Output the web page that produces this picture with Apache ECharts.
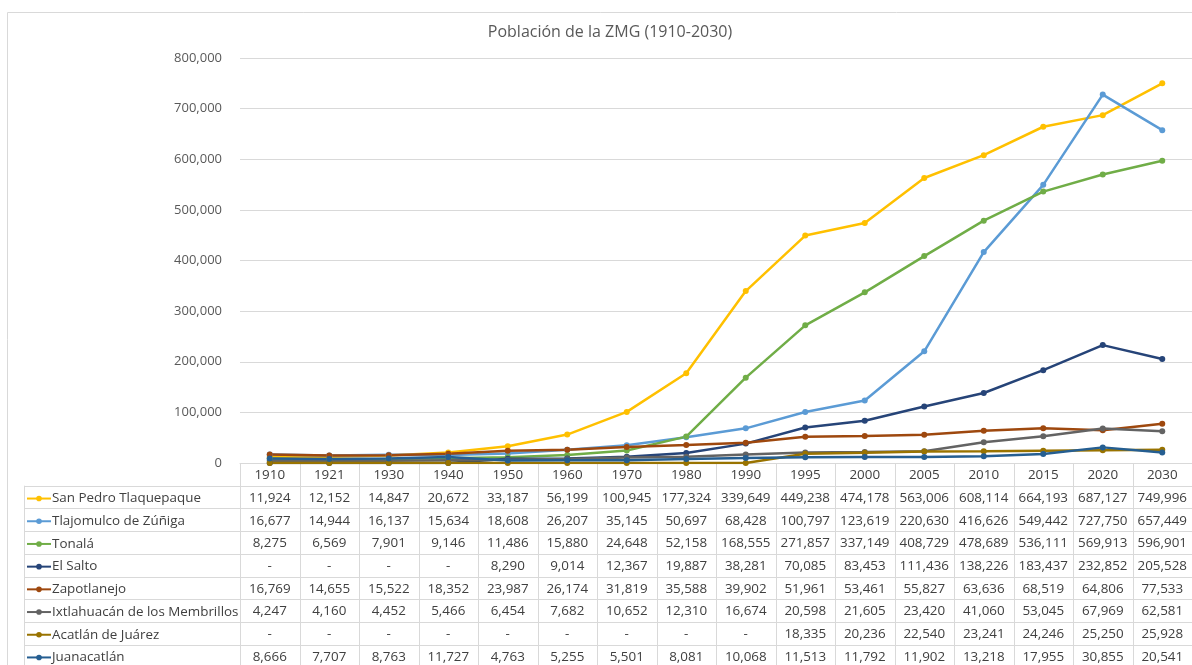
<!DOCTYPE html>
<html>
<head>
<meta charset="utf-8">
<script src="https://cdn.jsdelivr.net/npm/echarts@6/dist/echarts.min.js"></script>
<style>
html,body{margin:0;padding:0;background:#fff;}
#c{width:1192px;height:665px;}
</style>
</head>
<body>
<div id="c"></div>
<script>
var years = ['1910','1921','1930','1940','1950','1960','1970','1980','1990','1995','2000','2005','2010','2015','2020','2030'];
var seriesNames = ['San Pedro Tlaquepaque','Tlajomulco de Zúñiga','Tonalá','El Salto','Zapotlanejo','Ixtlahuacán de los Membrillos','Acatlán de Juárez','Juanacatlán'];
var sanPedro    = [11924,12152,14847,20672,33187,56199,100945,177324,339649,449238,474178,563006,608114,664193,687127,749996];
var tlajomulco  = [16677,14944,16137,15634,18608,26207,35145,50697,68428,100797,123619,220630,416626,549442,727750,657449];
var tonala      = [8275,6569,7901,9146,11486,15880,24648,52158,168555,271857,337149,408729,478689,536111,569913,596901];
var elSalto     = [0,0,0,0,8290,9014,12367,19887,38281,70085,83453,111436,138226,183437,232852,205528];
var zapotlanejo = [16769,14655,15522,18352,23987,26174,31819,35588,39902,51961,53461,55827,63636,68519,64806,77533];
var ixtlahuacan = [4247,4160,4452,5466,6454,7682,10652,12310,16674,20598,21605,23420,41060,53045,67969,62581];
var acatlan     = [0,0,0,0,0,0,0,0,0,18335,20236,22540,23241,24246,25250,25928];
var juanacatlan = [8666,7707,8763,11727,4763,5255,5501,8081,10068,11513,11792,11902,13218,17955,30855,20541];
var yTicks = [0,100000,200000,300000,400000,500000,600000,700000,800000];
var colors = ['#FFC000','#5B9BD5','#70AD47','#264478','#9E480E','#636363','#997300','#255E91'];

var allData = [sanPedro,tlajomulco,tonala,elSalto,zapotlanejo,ixtlahuacan,acatlan,juanacatlan];

// layout
var W = 1192, H = 665;
var GL = 240, GR = 0, GT = 58, AXY = 463;
var ROWH = 22.7;
var TL = 24;
var FONT = '"Open Sans", "Noto Sans", sans-serif';

function fmt(v){ return v === 0 ? '-' : v.toLocaleString('en-US'); }

var chart = echarts.init(document.getElementById('c'));

var series = seriesNames.map(function(n, i){
  return {
    name: n, type: 'line', data: allData[i],
    symbol: 'circle', symbolSize: 6,
    lineStyle: {width: 2.5, color: colors[i]},
    itemStyle: {color: colors[i]},
    emphasis: {disabled: true}
  };
});

// frame and table borders
var graphics = [];
var lineStyle = {stroke: '#d9d9d9', lineWidth: 1};
graphics.push({type:'rect', shape:{x:7.5, y:12.5, width:1300, height:800}, style:{fill:null, stroke:'#d9d9d9', lineWidth:1}, silent:true});
var colW = (W - GL - GR) / years.length;
var headerBottom = AXY + ROWH;
for (var k = 0; k <= years.length; k++) {
  var x = Math.round(GL + k * colW) + 0.5;
  graphics.push({type:'line', shape:{x1:x, y1:AXY, x2:x, y2:H+20}, style:lineStyle, silent:true});
}
graphics.push({type:'line', shape:{x1:TL+0.5, y1:headerBottom, x2:TL+0.5, y2:H+20}, style:lineStyle, silent:true});
for (var r = 0; r <= seriesNames.length; r++) {
  var y = Math.round(headerBottom + r * ROWH) + 0.5;
  graphics.push({type:'line', shape:{x1:TL, y1:y, x2:W, y2:y}, style:lineStyle, silent:true});
}

chart.setOption({
  animation: false,
  color: colors,
  title: {
    text: 'Población de la ZMG (1910-2030)',
    left: 605, textAlign: 'center', top: 19,
    textStyle: {fontFamily: FONT, fontSize: 16, fontWeight: 'normal', color: '#595959'}
  },
  legend: {
    orient: 'vertical', left: 26, top: headerBottom + 1.5, height: 260, padding: 0, itemGap: 0,
    itemWidth: 24, itemHeight: 7,
    selectedMode: false,
    textStyle: {fontFamily: FONT, fontSize: 13.4, color: '#404040', lineHeight: ROWH, padding: [0,0,0,-4]},
    data: seriesNames
  },
  grid: {left: GL, right: GR, top: GT, bottom: H - AXY, containLabel: false, outerBoundsMode: 'none'},
  xAxis: {
    type: 'category', data: years, boundaryGap: true,
    axisLine: {show: true, lineStyle: {color: '#d9d9d9', width: 1}},
    axisTick: {show: false},
    axisLabel: {
      interval: 0, margin: 1, lineHeight: ROWH,
      fontFamily: FONT, fontSize: 13.4, color: '#404040',
      formatter: function(v, idx){
        var lines = [v];
        for (var i = 0; i < allData.length; i++) lines.push(fmt(allData[i][idx]));
        return lines.join('\n');
      }
    }
  },
  yAxis: {
    type: 'value', min: yTicks[0], max: yTicks[yTicks.length-1], interval: yTicks[1]-yTicks[0],
    axisLine: {show: false}, axisTick: {show: false},
    splitLine: {lineStyle: {color: '#d9d9d9', width: 1}},
    axisLabel: {margin: 18, fontFamily: FONT, fontSize: 13, color: '#595959',
      formatter: function(v){ return v.toLocaleString('en-US'); }}
  },
  graphic: graphics,
  series: series
});
</script>
</body>
</html>
